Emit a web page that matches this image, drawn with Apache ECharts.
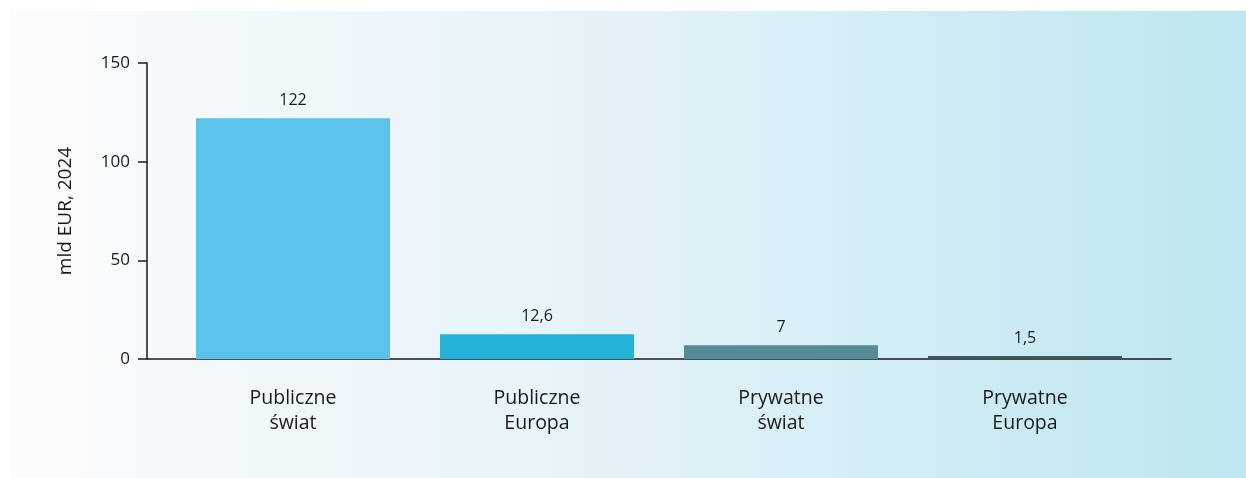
<!DOCTYPE html>
<html>
<head>
<meta charset="utf-8">
<script src="https://cdn.jsdelivr.net/npm/echarts@6/dist/echarts.min.js"></script>
<style>
html,body{margin:0;padding:0;background:#fff;}
#chart{width:1246px;height:478px;}
</style>
</head>
<body>
<div id="chart"></div>
<script>
// dane wykresu
var categories = ['Publiczne\nświat', 'Publiczne\nEuropa', 'Prywatne\nświat', 'Prywatne\nEuropa'];
var values = [122, 12.6, 7, 1.5];
var barColors = ['#5bc3eb', '#22b3d6', '#548b96', '#3d565c'];
var yTicks = [0, 50, 100, 150];
var yName = 'mld EUR, 2024';

var font = '"Open Sans", "Noto Sans", sans-serif';
var chart = echarts.init(document.getElementById('chart'));

var barData = [];
for (var i = 0; i < values.length; i++) {
    barData.push({value: values[i], itemStyle: {color: barColors[i]}});
}

var option = {
    animation: false,
    graphic: [{
        type: 'rect',
        silent: true,
        z: -10,
        shape: {x: 10, y: 11, width: 1236, height: 467},
        style: {
            fill: new echarts.graphic.LinearGradient(0, 0, 1, 0, [
                {offset: 0, color: '#fbfcfd'},
                {offset: 0.5, color: '#e3f2f8'},
                {offset: 1, color: '#bce6f0'}
            ])
        }
    }],
    grid: [
        {left: 147, right: 75, top: 63, bottom: 119},   // os Y + linia osi X
        {left: 171, right: 99, top: 63, bottom: 119}    // slupki
    ],
    xAxis: [{
        gridIndex: 0,
        type: 'value',
        min: 0, max: 1,
        axisLine: {show: true, lineStyle: {color: '#1a1a1a', width: 1.5}},
        axisTick: {show: false},
        axisLabel: {show: false},
        splitLine: {show: false}
    }, {
        gridIndex: 1,
        type: 'category',
        data: categories,
        axisLine: {show: false},
        axisTick: {show: false},
        axisLabel: {
            margin: 27,
            fontFamily: font,
            fontSize: 19.5,
            lineHeight: 25,
            color: '#1a1a1a'
        }
    }],
    yAxis: [{
        gridIndex: 0,
        type: 'value',
        min: yTicks[0],
        max: yTicks[yTicks.length - 1],
        interval: 50,
        name: yName,
        nameLocation: 'middle',
        nameGap: 72,
        nameTextStyle: {fontFamily: font, fontSize: 19, color: '#1a1a1a'},
        axisLine: {show: true, lineStyle: {color: '#1a1a1a', width: 1.5}},
        axisTick: {show: true, inside: false, length: 9, lineStyle: {color: '#1a1a1a', width: 1.5}},
        axisLabel: {margin: 17, fontFamily: font, fontSize: 17, color: '#1a1a1a'},
        splitLine: {show: false}
    }, {
        gridIndex: 1,
        type: 'value',
        min: 0, max: 150,
        show: false
    }],
    series: [{
        type: 'bar',
        xAxisIndex: 1,
        yAxisIndex: 1,
        barWidth: 194,
        data: barData,
        label: {
            show: true,
            position: 'top',
            distance: 10,
            fontFamily: font,
            fontSize: 16,
            color: '#1a1a1a',
            formatter: function (p) {
                return String(p.value).replace('.', ',');
            }
        }
    }]
};
chart.setOption(option);
</script>
</body>
</html>
